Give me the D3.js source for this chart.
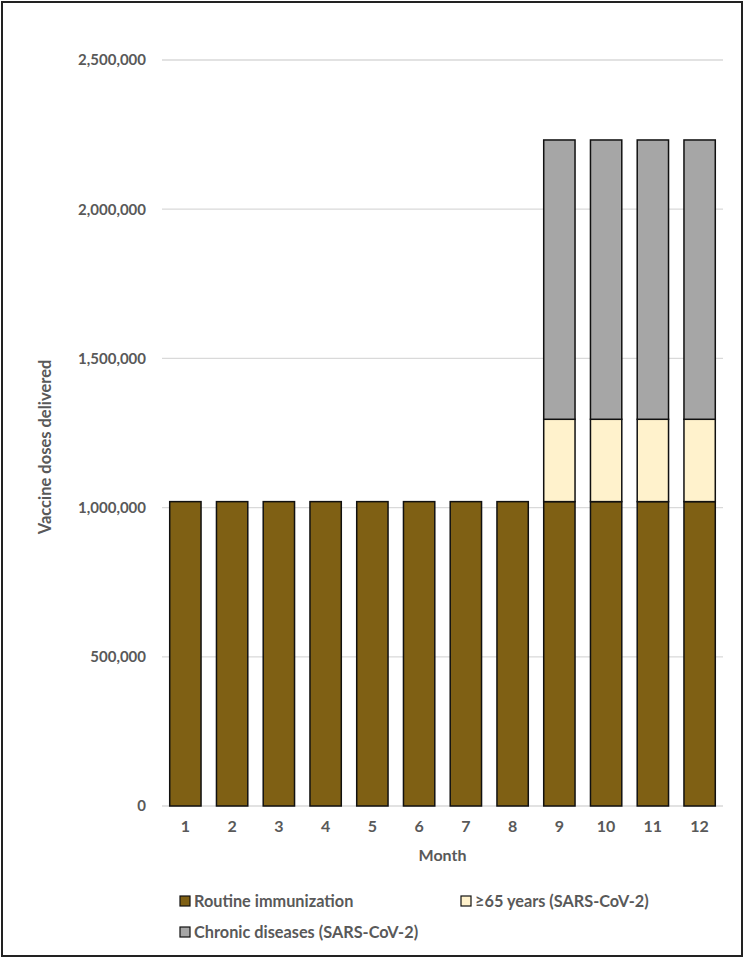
<!DOCTYPE html>
<html>
<head>
<meta charset="utf-8">
<script src="https://cdn.jsdelivr.net/npm/d3@7"></script>
<style>
  body { margin: 0; background: #fff; }
  text { font-family: Lato, "Open Sans", sans-serif; font-weight: bold; fill: #595959; }
</style>
</head>
<body>
<div id="chart"></div>
<script>
// data
const months = ["1", "2", "3", "4", "5", "6", "7", "8", "9", "10", "11", "12"]
const routine = [1020000, 1020000, 1020000, 1020000, 1020000, 1020000, 1020000, 1020000, 1020000, 1020000, 1020000, 1020000]
const over65 = [0, 0, 0, 0, 0, 0, 0, 0, 276000, 276000, 276000, 276000]
const chronic = [0, 0, 0, 0, 0, 0, 0, 0, 936000, 936000, 936000, 936000]
const yTicks = [0, 500000, 1000000, 1500000, 2000000, 2500000]

const seriesNames = ["Routine immunization", "≥65 years (SARS-CoV-2)", "Chronic diseases (SARS-CoV-2)"]
const colors = ["#7f6014", "#fff2cc", "#a6a6a6"]

let width = 745, height = 959
let margin = ({top: 60, right: 22, bottom: 153, left: 162})

const table = months.map((m, i) => ({month: m, r: routine[i], o: over65[i], c: chronic[i]}))
const stacked = d3.stack().keys(["r", "o", "c"])(table)

let x = d3.scaleBand()
    .domain(months)
    .range([margin.left, width - margin.right])
    .paddingInner(0.33)
    .paddingOuter(0.165)

let y = d3.scaleLinear()
    .domain([0, 2500000])
    .range([height - margin.bottom, margin.top])

const svg = d3.select("#chart")
  .append("svg")
    .attr("width", width)
    .attr("height", height)

// frame
svg.append("rect")
    .attr("x", 2).attr("y", 2)
    .attr("width", width - 5).attr("height", height - 5)
    .attr("fill", "none")
    .attr("stroke", "#222")
    .attr("stroke-width", 2)

// gridlines
svg.append("g")
  .selectAll("line")
  .data(yTicks)
  .join("line")
    .attr("x1", margin.left)
    .attr("x2", width - margin.right)
    .attr("y1", d => y(d))
    .attr("y2", d => y(d))
    .attr("stroke", "#d9d9d9")
    .attr("stroke-width", 1.3)

// y axis
svg.append("g")
    .attr("transform", `translate(${margin.left - 16},0)`)
    .call(d3.axisLeft(y).tickValues(yTicks).tickFormat(d3.format(",")).tickSize(0).tickPadding(0))
    .call(g => g.select(".domain").remove())
    .call(g => g.selectAll("text")
        .attr("font-family", "Lato, sans-serif")
        .attr("font-size", 15)
        .attr("fill", "#595959"))

// x axis
svg.append("g")
    .attr("transform", `translate(0,${height - margin.bottom + 12})`)
    .call(d3.axisBottom(x).tickSize(0).tickPadding(3))
    .call(g => g.select(".domain").remove())
    .call(g => g.selectAll("text")
        .attr("font-family", "Lato, sans-serif")
        .attr("font-size", 16)
        .attr("fill", "#595959"))

// bars
svg.append("g")
  .selectAll("g")
  .data(stacked)
  .join("g")
    .attr("fill", (d, i) => colors[i])
  .selectAll("rect")
  .data(d => d.filter(s => s[1] - s[0] > 0))
  .join("rect")
    .attr("x", d => x(d.data.month))
    .attr("width", x.bandwidth())
    .attr("y", d => y(d[1]))
    .attr("height", d => y(d[0]) - y(d[1]))
    .attr("stroke", "#111")
    .attr("stroke-width", 1.5)

// axis titles
svg.append("text")
    .attr("x", (margin.left + width - margin.right) / 2)
    .attr("y", 861)
    .attr("text-anchor", "middle")
    .attr("font-size", 16)
    .text("Month")

svg.append("text")
    .attr("transform", `translate(51,447) rotate(-90)`)
    .attr("text-anchor", "middle")
    .attr("font-size", 16.5)
    .text("Vaccine doses delivered")

// legend
const legendPos = [[180, 901], [461, 901], [180, 932]]
const legend = svg.append("g")
  .selectAll("g")
  .data(seriesNames)
  .join("g")
    .attr("transform", (d, i) => `translate(${legendPos[i][0]},${legendPos[i][1]})`)

legend.append("rect")
    .attr("x", 0).attr("y", -5)
    .attr("width", 10).attr("height", 10)
    .attr("fill", (d, i) => colors[i])
    .attr("stroke", "#111")
    .attr("stroke-width", 1.2)

legend.append("text")
    .attr("x", 14)
    .attr("y", 5.5)
    .attr("font-size", 16.3)
    .text(d => d)
</script>
</body>
</html>
